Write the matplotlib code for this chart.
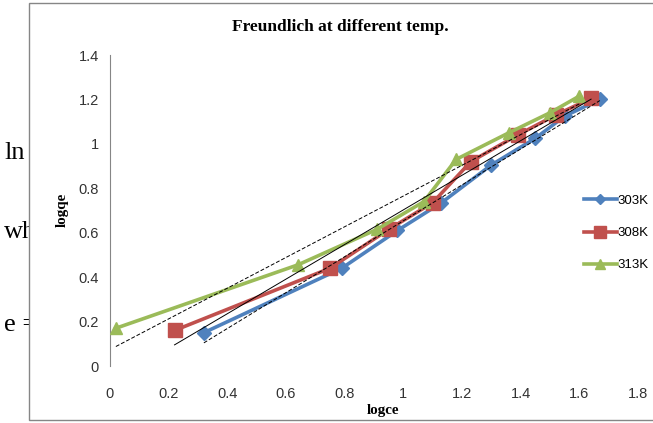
import matplotlib.pyplot as plt
import matplotlib.patches as mpatches
import numpy as np

# logce / logqe values
x303 = [0.32, 0.79, 0.98, 1.13, 1.30, 1.45, 1.55, 1.67]
y303 = [0.15, 0.44, 0.61, 0.735, 0.905, 1.025, 1.125, 1.20]
x308 = [0.22, 0.75, 0.95, 1.10, 1.23, 1.39, 1.52, 1.64]
y308 = [0.16, 0.44, 0.615, 0.735, 0.92, 1.04, 1.13, 1.205]
x313 = [0.02, 0.64, 0.91, 1.07, 1.18, 1.36, 1.50, 1.60]
y313 = [0.17, 0.455, 0.615, 0.74, 0.93, 1.05, 1.14, 1.215]
labels = ["303K", "308K", "313K"]
xticks = [0, 0.2, 0.4, 0.6, 0.8, 1, 1.2, 1.4, 1.6, 1.8]
yticks = [0, 0.2, 0.4, 0.6, 0.8, 1, 1.2, 1.4]

W, H = 653, 423
fig = plt.figure(figsize=(W / 100, H / 100), dpi=100)

# page text peeking out on the left, and chart border over it
serif = "Liberation Serif"
for t, yp in [("ln", 153), ("wh", 232), ("e =", 325)]:
    fig.text(4 / W, 1 - yp / H, t, fontsize=19, family=serif, va="center",
             ha="left", zorder=-3)
fig.patches.append(mpatches.Rectangle((29 / W, 1 - 420 / H), 1.0, 417 / H,
                                      transform=fig.transFigure, facecolor="white",
                                      edgecolor="#868686", lw=1.0, zorder=-2))

ax = fig.add_axes([110 / W, 1 - 366 / H, (638 - 110) / W, (366 - 55) / H])
ax.patch.set_alpha(0)

series = [(x303, y303, "#4F81BD", "D", 7, "--"),
          (x308, y308, "#C0504D", "s", 10, "-"),
          (x313, y313, "#9BBB59", "^", 9, "--")]
handles = []
for (xs, ys, c, m, ms, tls), lab in zip(series, labels):
    h, = ax.plot(xs, ys, color=c, lw=2.6, marker=m, ms=ms, label=lab, zorder=3)
    handles.append(h)
for (xs, ys, c, m, ms, tls) in series:
    k, b = np.polyfit(xs, ys, 1)
    xx = np.array([min(xs), max(xs)])
    ax.plot(xx, k * xx + b, color="black", lw=0.7, ls=tls, dashes=(4, 2) if tls == "--" else (None, None), zorder=4)

ax.set_xlim(0, 1.8)
ax.set_ylim(0, 1.4)
ax.set_xticks(xticks)
ax.set_xticklabels([f"{v:g}" for v in xticks])
ax.set_yticks(yticks)
ax.set_yticklabels([f"{v:g}" for v in yticks])
for s in ["top", "right", "bottom"]:
    ax.spines[s].set_visible(False)
ax.spines["left"].set_color("#868686")
ax.tick_params(axis="both", length=0, labelsize=10.5, labelcolor="#333333")
ax.tick_params(axis="x", pad=15)
ax.tick_params(axis="y", pad=8)
for lab in ax.get_xticklabels() + ax.get_yticklabels():
    lab.set_family("Liberation Sans")

fig.text(340 / W, 1 - 27 / H, "Freundlich at different temp.", ha="center",
         va="center", fontsize=12.5, fontweight="bold", family=serif)
fig.text(383 / W, 1 - 410 / H, "logce", ha="center", va="center",
         fontsize=10.8, fontweight="bold", family=serif)
fig.text(62 / W, 1 - 210 / H, "logqe", ha="center", va="center", rotation=90,
         fontsize=10.8, fontweight="bold", family=serif)

fig.legend(handles=handles, loc="center left",
           bbox_to_anchor=(577 / W, 1 - 233 / H), frameon=False, borderpad=0,
           handlelength=2.5, handletextpad=0.05, labelspacing=1.5,
           prop={"family": "Liberation Sans", "size": 9.5}, markerscale=0.8)

fig.savefig("out.png", dpi=100)
